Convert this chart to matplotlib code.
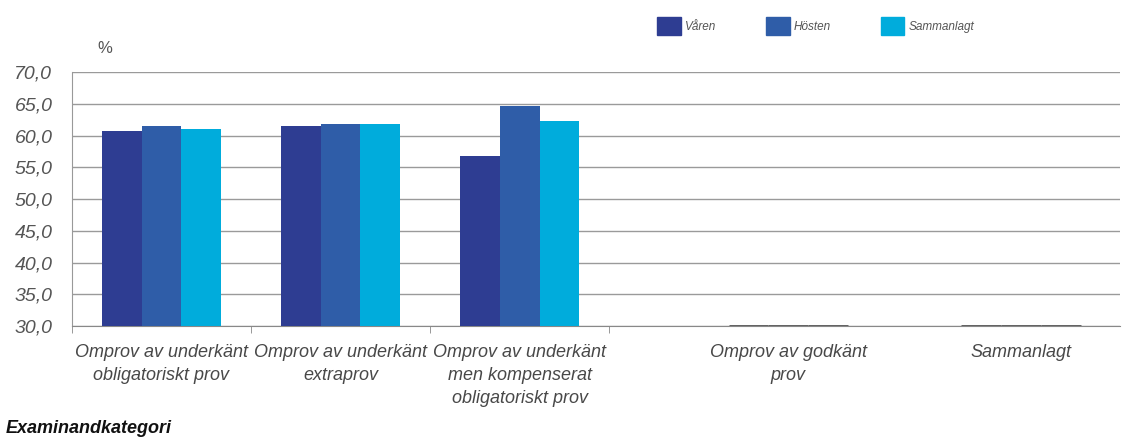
import numpy as np
import matplotlib
matplotlib.use("Agg")
import matplotlib.pyplot as plt
from matplotlib.patches import Patch

plt.rcParams["font.family"] = ["Liberation Sans", "DejaVu Sans"]

# ── Data ────────────────────────────────────────────────────────────────────
categories = [
    "Omprov av underkänt\nobligatoriskt prov",
    "Omprov av underkänt\nextraprov",
    "Omprov av underkänt\nmen kompenserat\nobligatoriskt prov",
    "Omprov av godkänt\nprov",
    "Sammanlagt",
]
# category positions as laid out in the original (last two are spread wider)
cat_pos = [0.0, 1.0, 2.0, 3.5, 4.8]

varen = [60.7, 61.5, 56.8, 0.0, 0.0]
hosten = [61.5, 61.9, 64.7, 0.0, 0.0]
samman = [61.1, 61.8, 62.3, 0.0, 0.0]

series = [
    ("Våren", varen, "#2E3D92"),
    ("Hösten", hosten, "#2F5DA8"),
    ("Sammanlagt", samman, "#00ACDC"),
]

y_ticks = np.arange(30, 70.1, 5)
Y_MIN = 30

# ── Figure ──────────────────────────────────────────────────────────────────
fig = plt.figure(figsize=(11.23, 4.42), dpi=100)
ax = fig.add_axes([0.064, 0.262, 0.933, 0.575])

bw = 0.222
x = np.array(cat_pos)
for i, (name, vals, col) in enumerate(series):
    vals = np.array(vals)
    heights = np.maximum(vals - Y_MIN, 0)
    ax.bar(x + (i - 1) * bw, heights, bw, bottom=Y_MIN, color=col,
           edgecolor=np.where(heights > 0, "none", "#555555").tolist(),
           linewidth=np.where(heights > 0, 0, 2.0).tolist(), zorder=3)

ax.set_ylim(Y_MIN, 70)
ax.set_xlim(-0.5, 5.35)
ax.set_yticks(y_ticks)
ax.set_yticklabels([f"{v:.1f}".replace(".", ",") for v in y_ticks],
                   fontsize=14, style="italic", color="#555555")
ax.tick_params(axis="y", length=0, pad=14)
ax.yaxis.grid(True, color="#9a9a9a", lw=1, zorder=0)

ax.set_xticks(cat_pos)
ax.set_xticklabels(categories, fontsize=13, style="italic", color="#484848",
                   linespacing=1.45)
ax.tick_params(axis="x", length=0, pad=13)
ax.set_xticks([-0.5, 0.5, 1.5, 2.5], minor=True)
ax.tick_params(axis="x", which="minor", length=5, color="#888888")

for s in ["top", "right"]:
    ax.spines[s].set_visible(False)
ax.spines["left"].set_color("#999999")
ax.spines["bottom"].set_color("#888888")

fig.text(0.087, 0.88, "%", fontsize=12, color="#555555")
fig.text(0.005, 0.02, "Examinandkategori", fontsize=13, weight="bold",
         style="italic", color="#111111")

handles = [Patch(color=col, label=name) for name, _, col in series]
leg = fig.legend(handles=handles, ncol=3, loc="upper left",
                 bbox_to_anchor=(0.576, 0.985), frameon=False,
                 handlelength=2.0, handleheight=2.0, handletextpad=0.35,
                 columnspacing=4.2, prop={"size": 8.5, "style": "italic"})
for t in leg.get_texts():
    t.set_color("#555555")

fig.savefig("out.png", dpi=100)
